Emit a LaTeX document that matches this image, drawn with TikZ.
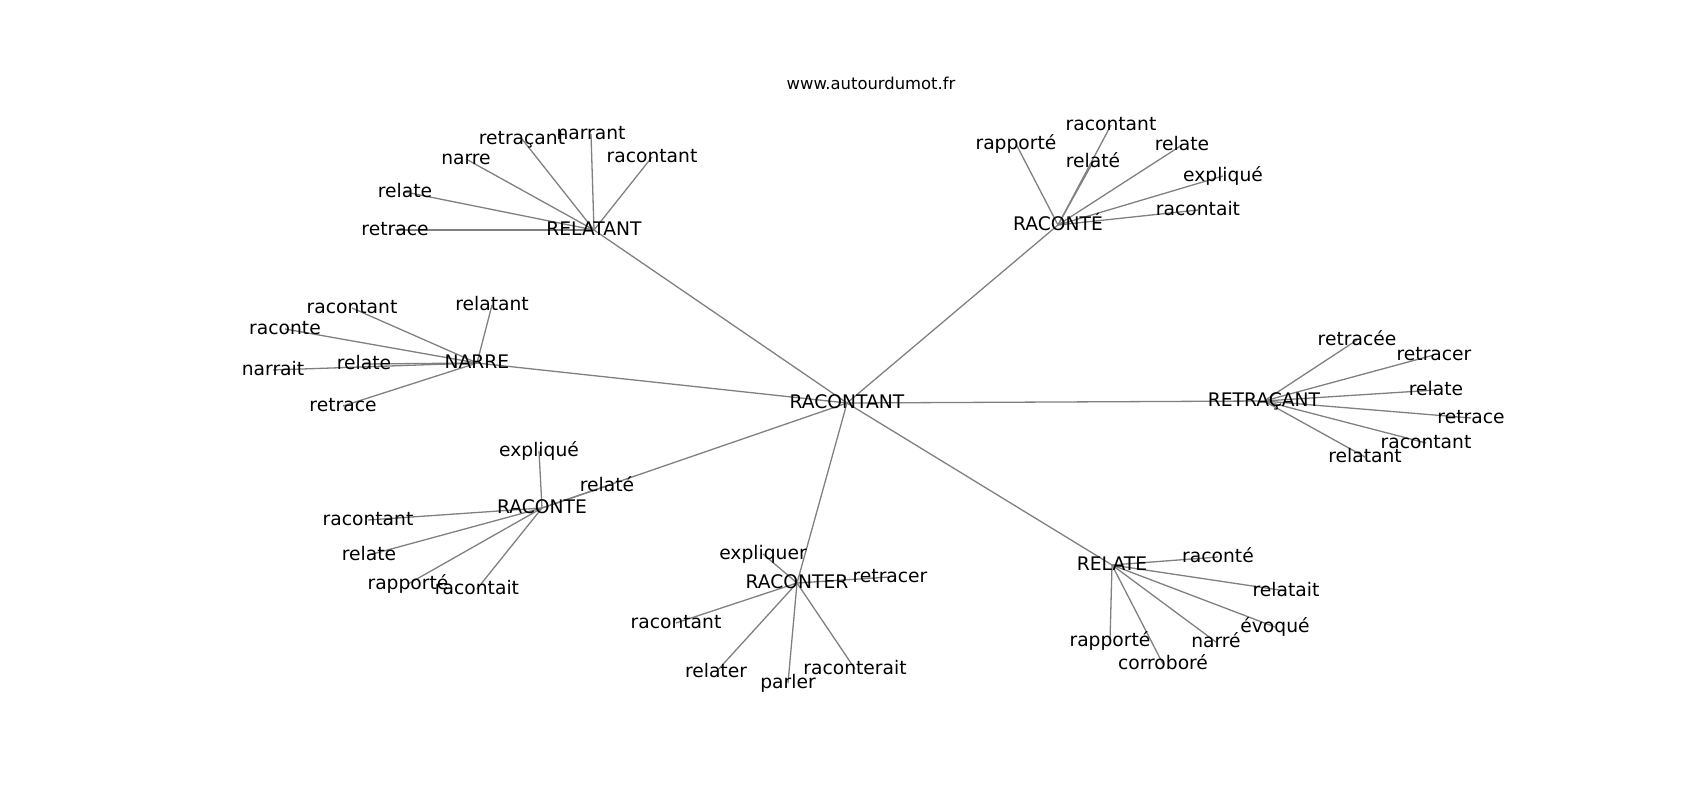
\documentclass[tikz,border=0pt]{standalone}
\usepackage{fontspec}
\setmainfont{DejaVu Sans}
\usetikzlibrary{backgrounds}
\tikzset{
  lbl/.style={font=\fontsize{18.7}{22}\selectfont, inner sep=0pt, text height=14.2pt, text depth=3.9pt, anchor=center},
  ttl/.style={font=\fontsize{16.4}{19}\selectfont, inner sep=0pt, anchor=center},
  edge/.style={draw=black!50, line width=1.3pt}
}
\begin{document}
\begin{tikzpicture}[x=1pt,y=-1pt]
\useasboundingbox (0,0) rectangle (1700,800);
\node[ttl] (title) at (871,83) {www.autourdumot.fr};
% hubs
\node[lbl] (c) at (847,403) {RACONTANT};
\node[lbl] (h1) at (594,230) {RELATANT};
\node[lbl] (h2) at (1058,225) {RACONTÉ};
\node[lbl] (h3) at (477,363) {NARRE};
\node[lbl] (h4) at (1264,401) {RETRAÇANT};
\node[lbl] (h5) at (542,508) {RACONTE};
\node[lbl] (h6) at (797,583) {RACONTER};
\node[lbl] (h7) at (1112,565) {RELATE};
% RELATANT
\node[lbl] (a1) at (395,230) {retrace};
\node[lbl] (a2) at (405,192) {relate};
\node[lbl] (a3) at (466,159) {narre};
\node[lbl] (a4) at (522,139) {retraçant};
\node[lbl] (a5) at (591,134) {narrant};
\node[lbl] (a6) at (652,157) {racontant};
% RACONTÉ
\node[lbl] (b1) at (1016,144) {rapporté};
\node[lbl] (b2) at (1111,125) {racontant};
\node[lbl] (b3) at (1182,145) {relate};
\node[lbl] (b4) at (1093,162) {relaté};
\node[lbl] (b5) at (1223,176) {expliqué};
\node[lbl] (b6) at (1198,210) {racontait};
% NARRE
\node[lbl] (n1) at (352,308) {racontant};
\node[lbl] (n2) at (492,305) {relatant};
\node[lbl] (n3) at (285,329) {raconte};
\node[lbl] (n4) at (273,370) {narrait};
\node[lbl] (n5) at (364,364) {relate};
\node[lbl] (n6) at (343,406) {retrace};
% RETRAÇANT
\node[lbl] (r1) at (1357,340) {retracée};
\node[lbl] (r2) at (1434,355) {retracer};
\node[lbl] (r3) at (1436,390) {relate};
\node[lbl] (r4) at (1471,418) {retrace};
\node[lbl] (r5) at (1426,443) {racontant};
\node[lbl] (r6) at (1365,457) {relatant};
% RACONTE
\node[lbl] (e1) at (539,451) {expliqué};
\node[lbl] (e2) at (607,486) {relaté};
\node[lbl] (e3) at (368,520) {racontant};
\node[lbl] (e4) at (369,555) {relate};
\node[lbl] (e5) at (408,584) {rapporté};
\node[lbl] (e6) at (477,589) {racontait};
% RACONTER
\node[lbl] (f1) at (763,554) {expliquer};
\node[lbl] (f2) at (890,577) {retracer};
\node[lbl] (f3) at (676,623) {racontant};
\node[lbl] (f4) at (716,672) {relater};
\node[lbl] (f5) at (788,683) {parler};
\node[lbl] (f6) at (855,669) {raconterait};
% RELATE
\node[lbl] (g1) at (1218,557) {raconté};
\node[lbl] (g2) at (1286,591) {relatait};
\node[lbl] (g3) at (1275,627) {évoqué};
\node[lbl] (g4) at (1216,642) {narré};
\node[lbl] (g5) at (1110,641) {rapporté};
\node[lbl] (g6) at (1163,664) {corroboré};
\begin{scope}[on background layer]
\foreach \h in {h1,h2,h3,h4,h5,h6,h7} \draw[edge] (c.center) -- (\h.center);
\foreach \k in {a1,a2,a3,a4,a5,a6} \draw[edge] (h1.center) -- (\k.center);
\foreach \k in {b1,b2,b3,b4,b5,b6} \draw[edge] (h2.center) -- (\k.center);
\foreach \k in {n1,n2,n3,n4,n5,n6} \draw[edge] (h3.center) -- (\k.center);
\foreach \k in {r1,r2,r3,r4,r5,r6} \draw[edge] (h4.center) -- (\k.center);
\foreach \k in {e1,e2,e3,e4,e5,e6} \draw[edge] (h5.center) -- (\k.center);
\foreach \k in {f1,f2,f3,f4,f5,f6} \draw[edge] (h6.center) -- (\k.center);
\foreach \k in {g1,g2,g3,g4,g5,g6} \draw[edge] (h7.center) -- (\k.center);
\end{scope}
\end{tikzpicture}
\end{document}
